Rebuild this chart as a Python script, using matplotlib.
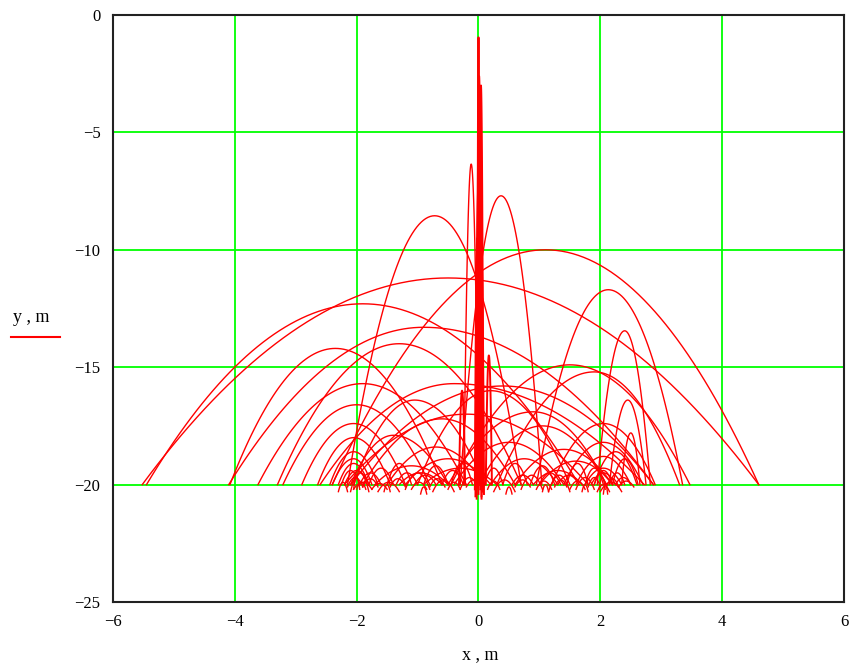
import numpy as np
import matplotlib.pyplot as plt
from matplotlib.lines import Line2D

# axis ranges / ticks
x_ticks = [-6, -4, -2, 0, 2, 4, 6]
y_ticks = [0, -5, -10, -15, -20, -25]

# big bounce arcs: (take-off x, apex x, apex y, landing x)
big_arcs = [
    (-5.52, -0.50, -11.2, 4.60),
    (-5.45, -1.90, -12.3, 1.65),
    (-2.40, 1.10, -10.0, 4.60),
    (-2.15, -0.72, -8.55, 0.70),
    (-0.30, 0.37, -7.7, 1.04),
    (-0.24, -0.12, -6.35, 0.00),
    (0.95, 2.13, -11.7, 3.35),
    (1.95, 2.40, -13.45, 2.82),
    (2.15, 2.45, -16.4, 2.75),
    (-0.45, 1.50, -14.9, 3.47),
    (0.30, 1.90, -15.2, 3.30),
    (-2.10, 0.40, -15.8, 2.87),
    (-4.10, -0.90, -13.3, 2.87),
    (-4.08, -2.35, -14.2, -0.60),
    (-3.62, -1.90, -15.7, -0.20),
    (-3.21, -2.00, -16.6, -0.80),
    (-2.90, -2.05, -17.4, -1.20),
    (-2.64, -2.05, -18.0, -1.45),
    (-2.44, -2.05, -18.6, -1.65),
    (-2.30, -2.05, -19.1, -1.80),
    (-3.30, -1.30, -14.0, 0.70),
    (-2.60, -0.40, -15.7, 2.72),
]

# medium hops in the middle of the floor: (take-off x, apex x, apex y, landing x)
mid_arcs = [
    (-2.05, -1.05, -16.4, 0.10),
    (-1.90, -0.60, -17.2, 0.60),
    (-2.10, -1.40, -17.9, -0.50),
    (-1.50, -0.70, -18.4, 0.10),
    (-1.20, -0.50, -18.9, 0.20),
    (-0.50, 0.90, -16.9, 2.10),
    (0.00, 1.05, -17.5, 2.10),
    (-0.40, 0.50, -18.2, 1.40),
    (0.60, 1.40, -18.5, 2.20),
    (1.00, 1.60, -19.0, 2.20),
    (-1.00, 0.20, -16.0, 1.50),
    (0.20, 0.75, -18.9, 1.30),
    (-2.20, -0.20, -17.0, 1.80),
    (1.20, 2.05, -17.4, 2.90),
    (1.40, 2.05, -18.2, 2.70),
    (1.60, 2.05, -18.8, 2.50),
    (1.75, 2.05, -19.3, 2.35),
    (1.90, 2.25, -18.6, 2.60),
    (2.35, 2.50, -17.8, 2.65),
    (2.20, 2.40, -18.9, 2.62),
    (-2.40, -2.05, -18.9, -1.75),
    (-1.70, -1.10, -19.2, -0.50),
    (-0.90, -0.30, -19.3, 0.30),
    (-1.30, -0.95, -19.5, -0.60),
    (0.90, 1.30, -19.4, 1.70),
    (-2.20, -2.00, -19.4, -1.80),
    (1.85, 2.05, -19.5, 2.25),
]

# thin spike at x = 0: (take-off x, apex x, apex y, landing x, floor)
spike_arcs = [
    (-0.02, 0.00, -0.95, 0.02, -20.0),
    (-0.03, 0.01, -2.6, 0.05, -20.6),
    (-0.04, 0.02, -5.0, 0.06, -20.3),
    (-0.01, 0.03, -4.2, 0.07, -20.0),
    (-0.05, 0.00, -7.2, 0.05, -20.5),
    (-0.06, -0.02, -9.5, 0.03, -20.2),
    (0.00, 0.05, -10.3, 0.09, -20.4),
    (-0.02, 0.04, -3.0, 0.08, -20.1),
    (0.12, 0.17, -14.5, 0.22, -20.0),
    (-0.32, -0.27, -16.0, -0.22, -20.0),
]

# small hops along the floor: (take-off x, landing x, hop height, floor)
floor_hops = [
    (-2.25, -1.95, 0.6, -20.0), (-2.10, -1.80, 0.8, -20.3), (-1.95, -1.60, 0.5, -20.0),
    (-1.80, -1.40, 0.7, -20.0), (-1.65, -1.30, 0.4, -20.3), (-1.50, -1.10, 0.9, -20.0),
    (-1.35, -1.00, 0.5, -20.0), (-1.20, -0.80, 0.7, -20.2), (-1.05, -0.70, 0.4, -20.0),
    (-0.90, -0.50, 0.8, -20.0), (-0.75, -0.40, 0.5, -20.3), (-0.60, -0.25, 0.6, -20.0),
    (-0.45, -0.10, 0.9, -20.0), (-0.30, 0.00, 0.5, -20.2), (0.10, 0.40, 0.7, -20.0),
    (0.25, 0.60, 0.5, -20.3), (0.40, 0.80, 0.9, -20.0), (0.55, 0.90, 0.4, -20.0),
    (0.70, 1.05, 0.6, -20.2), (0.85, 1.25, 0.8, -20.0), (1.00, 1.35, 0.5, -20.0),
    (1.15, 1.50, 0.7, -20.3), (1.30, 1.65, 0.4, -20.0), (1.45, 1.80, 0.9, -20.0),
    (1.60, 1.90, 0.5, -20.2), (1.75, 2.05, 0.7, -20.0), (1.90, 2.20, 0.6, -20.0),
    (2.00, 2.35, 0.4, -20.3), (2.15, 2.40, 0.5, -20.0), (2.25, 2.50, 0.3, -20.0),
    (-2.00, -1.85, 0.3, -20.2), (-1.55, -1.45, 0.3, -20.3), (-0.95, -0.85, 0.3, -20.4),
    (0.45, 0.55, 0.3, -20.4), (1.05, 1.15, 0.3, -20.3), (1.70, 1.80, 0.3, -20.3),
    (2.05, 2.12, 0.4, -20.4), (-2.30, -2.15, 0.4, -20.3),
    (-2.15, -1.90, 0.4, -20.1), (-2.05, -1.75, 0.3, -20.2), (-1.90, -1.65, 0.35, -20.1),
    (-1.75, -1.50, 0.25, -20.2), (-1.45, -1.20, 0.35, -20.1), (-1.10, -0.85, 0.3, -20.2),
    (-0.80, -0.55, 0.35, -20.1), (-0.50, -0.30, 0.3, -20.2), (-0.20, 0.05, 0.3, -20.1),
    (0.15, 0.35, 0.35, -20.2), (0.60, 0.85, 0.3, -20.1), (0.95, 1.20, 0.35, -20.2),
    (1.25, 1.45, 0.3, -20.1), (1.50, 1.75, 0.35, -20.2), (1.80, 2.00, 0.4, -20.1),
    (1.95, 2.15, 0.3, -20.3), (2.10, 2.30, 0.35, -20.1), (2.30, 2.55, 0.25, -20.1),
    (-2.05, -1.95, 0.5, -20.2), (1.98, 2.08, 0.5, -20.2),
]


def arc_xy(x0, xa, ya, x1, y0=-20.0):
    xl = np.linspace(x0, xa, 40)
    yl = ya - (ya - y0) * ((xl - xa) / (x0 - xa)) ** 2
    xr = np.linspace(xa, x1, 40)
    yr = ya - (ya - y0) * ((xr - xa) / (x1 - xa)) ** 2
    return np.concatenate([xl, xr]), np.concatenate([yl, yr])


red = "#ff0000"
fig = plt.figure(figsize=(8.54, 6.66), dpi=100)
ax = fig.add_axes([113 / 854, 64 / 666, 731 / 854, 587 / 666])

for a in big_arcs + mid_arcs:
    xs, ys = arc_xy(*a)
    ax.plot(xs, ys, color=red, lw=1.0)
for x0, xa, ya, x1, fl in spike_arcs:
    xs, ys = arc_xy(x0, xa, ya, x1, fl)
    ax.plot(xs, ys, color=red, lw=1.4)
for x0, x1, h, fl in floor_hops:
    xs, ys = arc_xy(x0, (x0 + x1) / 2, fl + h, x1, fl)
    ax.plot(xs, ys, color=red, lw=1.0)

ax.set_xlim(-6, 6)
ax.set_ylim(-25, 0)
ax.set_xticks(x_ticks)
ax.set_yticks(y_ticks)
ax.grid(True, color="#00ff00", lw=1.3)
ax.set_axisbelow(True)
ax.tick_params(length=0, pad=9, labelsize=12)
for lab in ax.get_xticklabels() + ax.get_yticklabels():
    lab.set_family("Liberation Serif")
for s in ax.spines.values():
    s.set_linewidth(1.5)
    s.set_color("#222222")

fig.text(480 / 854, 1 - 655 / 666, "x , m", ha="center", va="center",
         family="Liberation Serif", fontsize=13)
fig.text(13 / 854, 1 - 318 / 666, "y , m", ha="left", va="center",
         family="Liberation Serif", fontsize=13)
fig.add_artist(Line2D([11 / 854, 60 / 854], [1 - 337 / 666, 1 - 337 / 666],
                      color=red, lw=1.5, transform=fig.transFigure))

fig.savefig("out.png", dpi=100)
